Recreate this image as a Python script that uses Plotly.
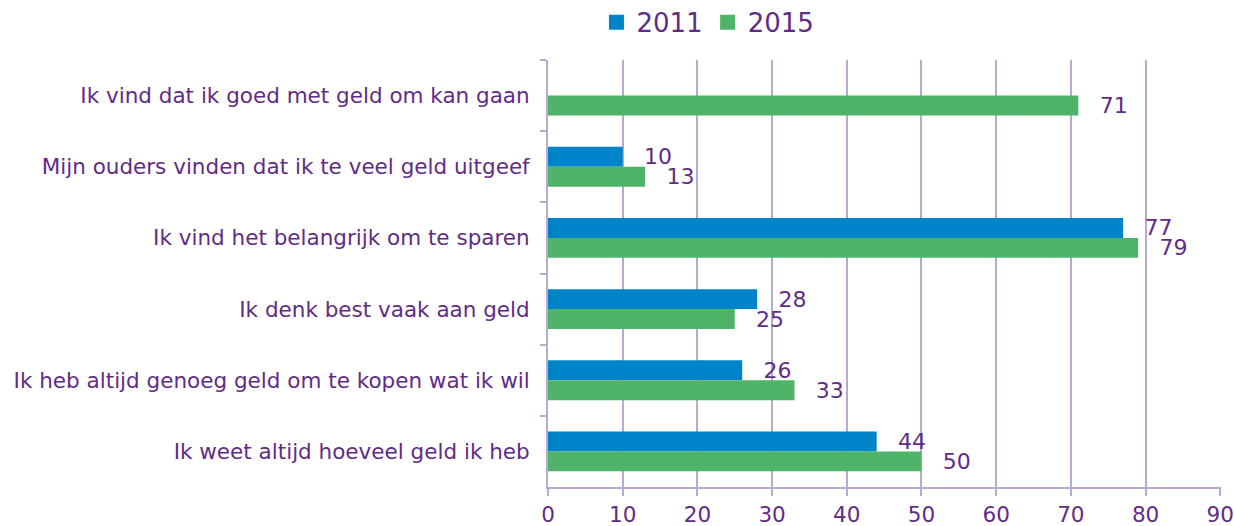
import plotly.graph_objects as go

categories = [
    "Ik vind dat ik goed met geld om kan gaan",
    "Mijn ouders vinden dat ik te veel geld uitgeef",
    "Ik vind het belangrijk om te sparen",
    "Ik denk best vaak aan geld",
    "Ik heb altijd genoeg geld om te kopen wat ik wil",
    "Ik weet altijd hoeveel geld ik heb",
]
values_2011 = [None, 10, 77, 28, 26, 44]
values_2015 = [71, 13, 79, 25, 33, 50]
x_ticks = [0, 10, 20, 30, 40, 50, 60, 70, 80, 90]
series_names = ["2011", "2015"]
series_colors = ["#0084C9", "#50B36A"]

TEXT = "#5F2C86"
GRID = "#B9A8CF"
FONT = "DejaVu Sans"
pad = "\u00a0\u00a0\u2009"

fig = go.Figure()
for name, vals, col in zip(series_names, [values_2011, values_2015], series_colors):
    fig.add_trace(go.Bar(
        name=name, y=categories, x=vals, orientation="h",
        marker=dict(color=col, line=dict(width=0)),
        texttemplate=pad + "%{x}", textposition="outside", constraintext="none",
        textfont=dict(color=TEXT, size=22, family=FONT), cliponaxis=False,
        showlegend=False,
    ))
# legend entries with square markers
for name, col in zip(series_names, series_colors):
    fig.add_trace(go.Scatter(
        name=name, x=[None], y=[None], mode="markers",
        marker=dict(symbol="square", size=15, color=col), showlegend=True,
    ))

fig.update_layout(
    width=1234, height=526,
    margin=dict(l=548, r=13, t=60, b=39, autoexpand=False),
    barmode="group", bargap=0.44, bargroupgap=0,
    plot_bgcolor="white", paper_bgcolor="white",
    font=dict(family=FONT, color=TEXT, size=21),
    legend=dict(orientation="h", x=0.072, xanchor="left", y=1.033, yanchor="bottom",
                font=dict(size=26, color=TEXT), traceorder="normal",
                itemwidth=30, tracegroupgap=0, itemsizing="trace"),
    showlegend=True,
)
fig.update_xaxes(
    range=[0, 90.1], tickvals=x_ticks, showgrid=True, gridcolor=GRID, gridwidth=2,
    showline=True, linecolor=GRID, linewidth=2, ticks="outside", tickcolor=GRID,
    ticklen=7, tickwidth=2, tickfont=dict(size=21.5, color=TEXT), zeroline=False,
    automargin=False, ticklabeloverflow="allow",
)
fig.update_yaxes(
    autorange="reversed", showline=True, linecolor=GRID, linewidth=2,
    ticks="outside", tickson="boundaries", tickcolor=GRID, ticklen=6, tickwidth=2,
    tickfont=dict(size=21.5, color=TEXT), ticklabelstandoff=12, automargin=False,
)

fig.write_html(
    "out.html",
    config={"displayModeBar": False},
    post_script="document.body.style.margin='0';document.body.style.overflow='hidden';",
)
